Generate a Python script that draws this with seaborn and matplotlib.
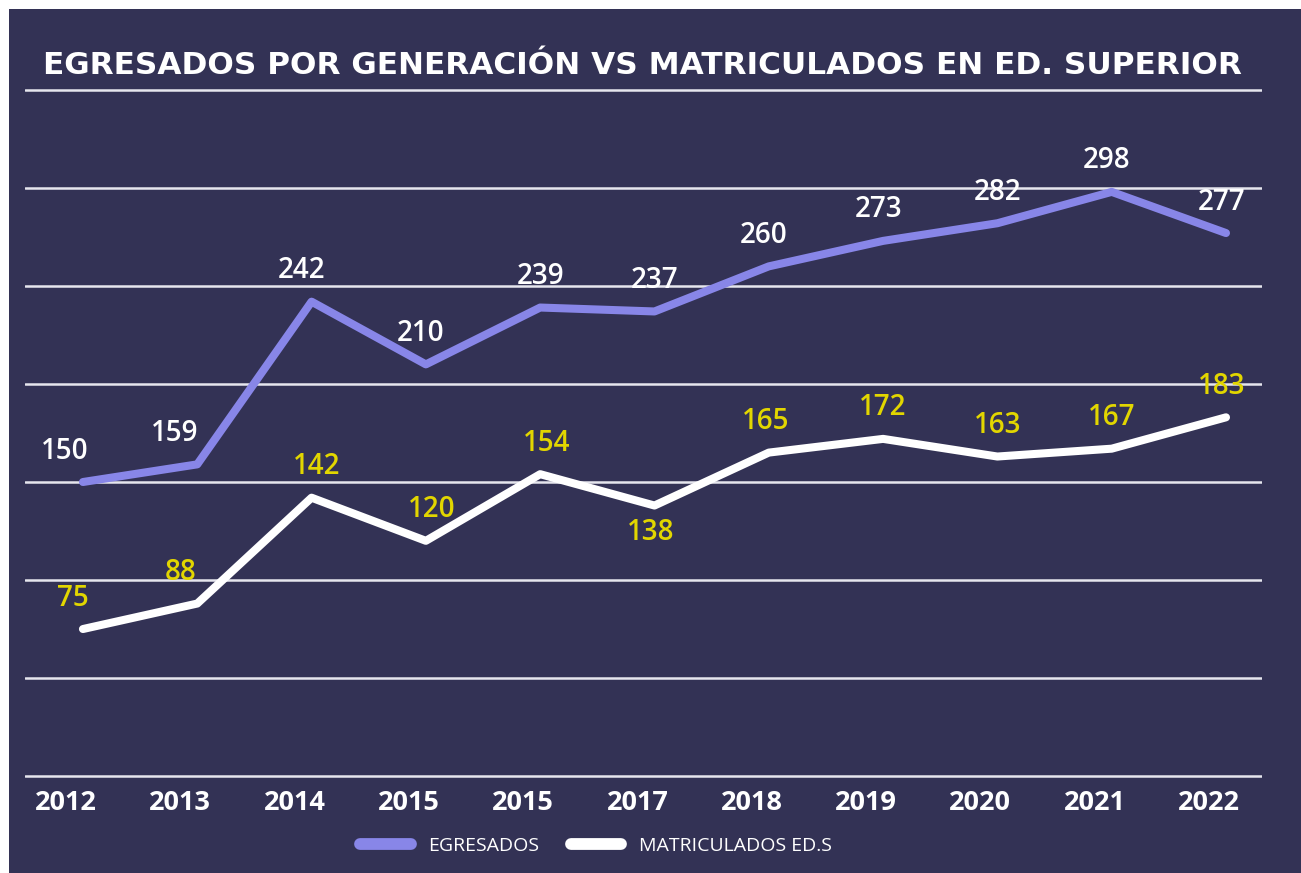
import matplotlib
matplotlib.use("Agg")
import matplotlib.pyplot as plt
import matplotlib.transforms as mtransforms
from matplotlib.patches import Rectangle
from matplotlib.lines import Line2D
import seaborn as sns
import pandas as pd

# datos
anios = ['2012', '2013', '2014', '2015', '2015', '2017', '2018', '2019', '2020', '2021', '2022']
egresados = [150, 159, 242, 210, 239, 237, 260, 273, 282, 298, 277]
matriculados = [75, 88, 142, 120, 154, 138, 165, 172, 163, 167, 183]
series = ['EGRESADOS', 'MATRICULADOS ED.S']

# ajustes de etiquetas (pixeles)
egr_dx = [-18, -23, -10, -5, 0, 0, -5, -5, 0, -5, -4]
mat_dx = [-10, -17, 5, 6, 7, -4, -3, 0, 0, 0, -4]
mat_abajo = [False, False, False, False, False, True, False, False, False, False, False]

FONDO = '#333255'
LAVANDA = '#8886E8'
AMARILLO = '#E2D600'
FUENTE = 'Open Sans'

pos = list(range(len(anios)))
df = pd.DataFrame({
    'pos': pos * 2,
    'valor': egresados + matriculados,
    'serie': [series[0]] * len(pos) + [series[1]] * len(pos),
})

sns.set_theme(style='white')
plt.rcParams['font.family'] = [FUENTE, 'DejaVu Sans']

fig = plt.figure(figsize=(13.01, 8.73), dpi=100, facecolor='white')
fig.patches.append(Rectangle((9 / 1301, 0), 1, 1 - 9 / 873, transform=fig.transFigure,
                             facecolor=FONDO, edgecolor='none', zorder=-10))

ax = fig.add_axes([25 / 1301, 1 - 779 / 873, 1237 / 1301, 692 / 873])
ax.set_facecolor('none')
ax.set_zorder(1)

sns.lineplot(data=df, x='pos', y='valor', hue='serie', palette=[LAVANDA, 'white'],
             linewidth=5.8, legend=False, ax=ax, zorder=3)
for ln in ax.lines:
    ln.set_solid_capstyle('round')
    ln.set_solid_joinstyle('round')

ax.set_xlim(-0.507, 10.315)
ax.set_ylim(-1.5, 351.5)
ax.set_yticks(range(0, 351, 50))
ax.set_yticklabels([])
ax.tick_params(axis='y', length=0)
ax.grid(axis='y', color='#E6E6EE', linewidth=1.8)
ax.grid(axis='x', visible=False)
for s in ax.spines.values():
    s.set_visible(False)
ax.set_xlabel('')
ax.set_ylabel('')

ax.set_xticks(pos)
ax.set_xticklabels(anios, fontsize=19.5, fontweight='bold', color='white')
ax.tick_params(axis='x', length=0, pad=8)
shift = mtransforms.ScaledTranslation(-0.17, 0, fig.dpi_scale_trans)
for lbl in ax.get_xticklabels():
    lbl.set_transform(lbl.get_transform() + shift)

for i, v in enumerate(egresados):
    ax.annotate(str(v), (i, v), xytext=(egr_dx[i], 31), textcoords='offset pixels',
                ha='center', va='center', fontsize=20, color='white', fontweight='semibold', zorder=4)
for i, v in enumerate(matriculados):
    dy = -27 if mat_abajo[i] else 31
    ax.annotate(str(v), (i, v), xytext=(mat_dx[i], dy), textcoords='offset pixels',
                ha='center', va='center', fontsize=20, color=AMARILLO, fontweight='semibold', zorder=4)

fig.text(0.494, 1 - 65 / 873, 'EGRESADOS POR GENERACIÓN VS MATRICULADOS EN ED. SUPERIOR',
         ha='center', va='center', fontsize=22.4, fontweight='bold', color='white',
         family='DejaVu Sans')

handles = [Line2D([0], [0], color=LAVANDA, lw=8.5, solid_capstyle='round'),
           Line2D([0], [0], color='white', lw=8.5, solid_capstyle='round')]
leg = fig.legend(handles, series, loc='center', bbox_to_anchor=(596 / 1301, 1 - 846 / 873),
                 ncol=2, frameon=False, prop={'size': 14},
                 handlelength=2.6, handletextpad=0.9, columnspacing=1.6)
for t in leg.get_texts():
    t.set_color('white')

fig.savefig('out.png', dpi=100, facecolor='white')
